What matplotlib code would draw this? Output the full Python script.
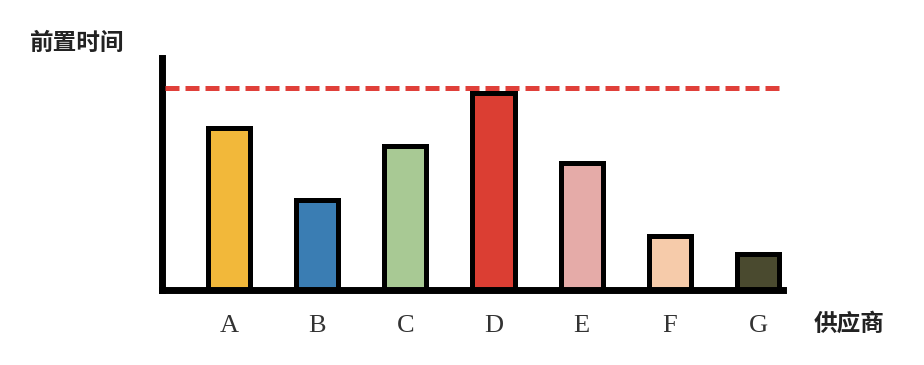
import matplotlib.pyplot as plt
import numpy as np

plt.rcParams['font.family'] = ['Noto Sans CJK SC', 'DejaVu Sans']

# data
suppliers = ['A', 'B', 'C', 'D', 'E', 'F', 'G']
lead_times = [8.1, 4.5, 7.2, 9.85, 6.35, 2.7, 1.8]
threshold = 10.1
bar_colors = ['#F2B83A', '#3A7DB3', '#A8C994', '#DB3E33', '#E5ABA8', '#F6CBAA', '#4A4A2F']

fig = plt.figure(figsize=(9.24, 3.65), dpi=100)
ax = fig.add_axes([0.1753, 0.2055, 0.672, 0.6356])

x = np.arange(len(suppliers))
ax.bar(x, lead_times, width=0.48, color=bar_colors, edgecolor='black',
       linewidth=3.6, zorder=2)
ax.axhline(threshold, color='#E0403A', linewidth=3.6, dashes=(2.8, 1.2),
           dash_capstyle='butt', zorder=3, xmin=0.005)

ax.set_xlim(-0.757, 6.28)
ax.set_ylim(0, 11.6)

for side in ['top', 'right']:
    ax.spines[side].set_visible(False)
for side in ['left', 'bottom']:
    ax.spines[side].set_linewidth(5)
    ax.spines[side].set_color('black')

ax.set_yticks([])
ax.set_xticks(x)
ax.set_xticklabels(suppliers, fontfamily='Liberation Serif', fontsize=19,
                   color='#333333')
ax.tick_params(axis='x', length=0, pad=18)

fig.text(77 / 924, 1 - 43 / 365, '前置时间', ha='center', va='center',
         fontsize=17, fontweight='bold', color='#222222')
fig.text(849 / 924, 1 - 324 / 365, '供应商', ha='center', va='center',
         fontsize=17, fontweight='bold', color='#222222')

fig.savefig('out.png', dpi=100)
